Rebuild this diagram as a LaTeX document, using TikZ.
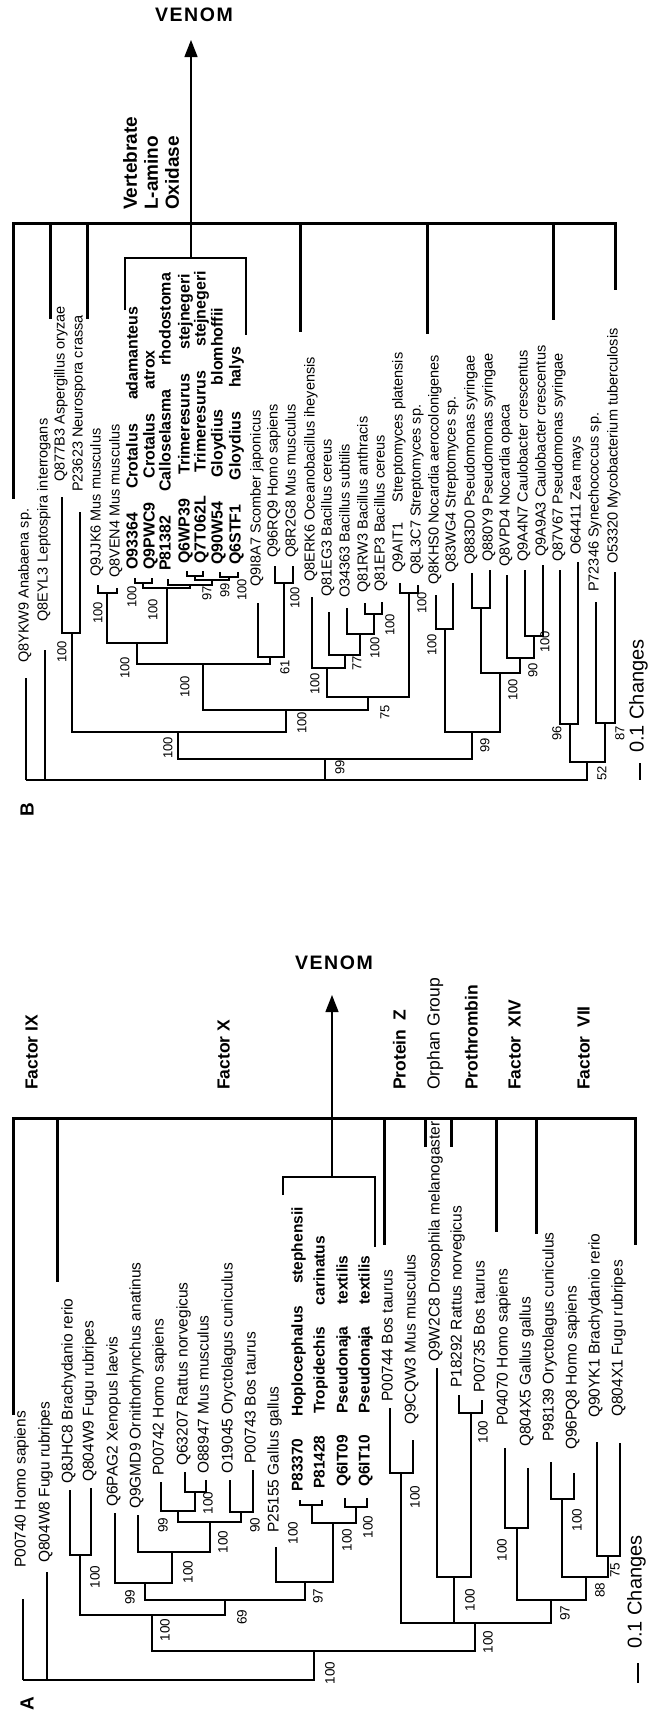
\documentclass[tikz,border=0pt]{standalone}
\usepackage{fontspec}
\setmainfont{Liberation Sans}
\usetikzlibrary{arrows.meta}
\newcommand\wgapA{\hspace{1.4em}}
\newcommand\wgapB{\hspace{1.5em}}

\begin{document}
\begin{tikzpicture}[
  x=1pt,y=-1pt,
  branch/.style={line width=1.4pt},
  cladebar/.style={line width=3pt,line cap=rect},
  venombar/.style={line width=1.4pt},
  venomarrow/.style={line width=1.4pt,-{Triangle[length=17pt,width=13pt]}},
  leafA/.style={rotate=90,anchor=mid west,inner sep=0pt,font=\fontsize{15.5}{16}\selectfont},
  leafAb/.style={leafA,font=\fontsize{15.5}{16}\selectfont\bfseries},
  leafB/.style={rotate=90,anchor=mid west,inner sep=0pt,font=\fontsize{14.5}{15}\selectfont},
  leafBb/.style={leafB,font=\fontsize{16}{16}\selectfont\bfseries},
  boot/.style={rotate=90,inner sep=0pt,font=\fontsize{13.5}{14}\selectfont},
  clade/.style={rotate=90,anchor=mid west,inner sep=0pt,font=\fontsize{17.5}{18}\selectfont\bfseries},
  venom/.style={inner sep=0pt,font=\fontsize{19.5}{20}\selectfont\bfseries\addfontfeature{LetterSpace=8}},
  panel/.style={rotate=90,inner sep=0pt,font=\fontsize{19}{20}\selectfont\bfseries},
  scaletext/.style={rotate=90,anchor=mid west,inner sep=0pt,font=\fontsize{20}{20}\selectfont},
]
\fill[white] (0,0) rectangle (652,1713);

% ===================== Panel B =====================
\node[panel] (labB) at (27,810) {B};

% leaves
\foreach \n/\x/\t/\l/\s in {
  b1/26/678/663/{Q8YKW9 Anabaena sp.},
  b2/45/650/622/{Q8EYL3 Leptospira interrogans},
  b3/62/497/482/{Q877B3 Aspergillus oryzae},
  b4/80/512/492/{P23623 Neurospora crassa},
  b5/98/585/577/{Q9JJK6 Mus musculus},
  b6/117/588/578/{Q8VEN4 Mus musculus},
  b14/258/603/587/{Q9I8A7 Scomber japonicus},
  b15/275/566/558/{Q96RQ9 Homo sapiens},
  b16/293/566/558/{Q8R2G8 Mus musculus},
  b17/312/597/582/{Q8ERK6 Oceanobacillus iheyensis},
  b18/329/612/597/{Q81EG3 Bacillus cereus},
  b19/347/608/598/{O34363 Bacillus subtilis},
  b20/365/603/593/{Q81RW3 Bacillus anthracis},
  b21/382/602/592/{Q81EP3 Bacillus cereus},
  b22/400/583/573/{Q9AIT1\wgapA Streptomyces platensis},
  b23/418/585/575/{Q8L3C7 Streptomyces sp.},
  b24/436/595/585/{Q8KHS0 Nocardia aerocolonigenes},
  b25/453/583/573/{Q83WG4 Streptomyces sp.},
  b26/472/573/565/{Q883D0 Pseudomonas syringae},
  b27/490/570/562/{Q880Y9 Pseudomonas syringae},
  b28/507/575/567/{Q8VPD4 Nocardia opaca},
  b29/525/570/562/{Q9A4N7 Caulobacter crescentus},
  b30/543/565/557/{Q9A9A3 Caulobacter crescentus},
  b31/560/570/562/{Q87V67 Pseudomonas syringae},
  b32/578/562/555/{O64411 Zea mays},
  b33/596/602/592/{P72346 Synechococcus sp.},
  b34/615/572/564/{O53320 Mycobacterium tuberculosis}}{
  \coordinate (\n) at (\x,\t);
  \node[leafB] (\n-t) at (\x,\l) {\s};
}
\foreach \n/\x/\t/\l/\s in {
  b7/135/578/570/{O93364\wgapB Crotalus\wgapB adamanteus},
  b8/152/578/570/{Q9PWC9\wgapB Crotalus\wgapB atrox},
  b9/168/579/571/{P81382\wgapB Calloselasma\wgapB rhodostoma},
  b10/187/571/564/{Q6WP39\wgapB Trimeresurus\wgapB stejnegeri},
  b11/203/571/564/{Q7T062L\wgapB Trimeresurus\wgapB stejnegeri},
  b12/220/572/565/{Q90W54\wgapB Gloydius\wgapB blomhoffii},
  b13/238/572/565/{Q6STF1\wgapB Gloydius\wgapB halys}}{
  \coordinate (\n) at (\x,\t);
  \node[leafBb] (\n-t) at (\x,\l) {\s};
}

% inner nodes
\coordinate (rB) at (26,780);
\coordinate (m1) at (325,759);  \coordinate (m2) at (178,732);
\coordinate (m3) at (72,633);   \coordinate (m4) at (286,710);
\coordinate (m5) at (203,664);  \coordinate (m6) at (137,643);
\coordinate (m7) at (107,593);  \coordinate (mv) at (167,588);
\coordinate (ma) at (143,583);  \coordinate (me) at (190,585);
\coordinate (md) at (212,580);  \coordinate (mb) at (195,576);
\coordinate (mc) at (229,577);  \coordinate (m8) at (270,657);
\coordinate (m9) at (284,583);  \coordinate (m10) at (368,697);
\coordinate (m11) at (327,668); \coordinate (m12) at (345,655);
\coordinate (m13) at (360,634); \coordinate (m14) at (374,614);
\coordinate (m15) at (409,593); \coordinate (m20) at (472,732);
\coordinate (m21) at (445,629); \coordinate (m22) at (500,673);
\coordinate (m23) at (481,608); \coordinate (m24) at (520,658);
\coordinate (m25) at (534,636); \coordinate (m30) at (587,762);
\coordinate (m31) at (570,724); \coordinate (m32) at (605,723);

\foreach \p/\c in {rB/b1,rB/b2,rB/m1,rB/m30,m1/m2,m1/m20,m2/m3,m2/m4,m3/b3,m3/b4,
  m4/m5,m4/m10,m5/m6,m5/m8,m6/m7,m6/mv,m7/b5,m7/b6,mv/ma,mv/me,ma/b7,ma/b8,
  me/b9,me/md,md/mb,md/mc,mb/b10,mb/b11,mc/b12,mc/b13,m8/b14,m8/m9,m9/b15,m9/b16,
  m10/m11,m10/m15,m11/b17,m11/m12,m12/b18,m12/m13,m13/b19,m13/m14,m14/b20,m14/b21,
  m15/b22,m15/b23,m20/m21,m20/m22,m21/b24,m21/b25,m22/m23,m22/m24,m23/b26,m23/b27,
  m24/b28,m24/m25,m25/b29,m25/b30,m30/m31,m30/m32,m31/b31,m31/b32,m32/b33,m32/b34}
  \draw[branch] (\p) -| (\c);

% bootstrap values
\foreach \x/\y/\v [count=\i] in {62/652/100,98/613/100,132/597/100,153/610/100,
  125/668/100,207/593/97,225/590/99,242/590/100,295/598/100,185/687/100,285/667/61,
  315/684/100,302/723/100,168/748/100,357/663/77,375/648/100,390/625/100,
  422/603/100,385/712/75,340/767/99,485/745/99,432/645/100,513/690/100,533/670/90,
  545/642/100,557/733/96,620/733/87,602/773/52}
  \node[boot,font=\fontsize{13}{13}\selectfont] (bsB\i) at (\x,\y) {\v};

% clade bar and venom group
\coordinate (brB-l) at (13,223); \coordinate (brB-r) at (615,223);
\draw[cladebar] (brB-l) -- (brB-r);
\foreach \x/\e in {13/497,50/317,87/317,300/330,427/332,553/318,615/288}
  \draw[cladebar] (\x,223) -- (\x,\e);
\coordinate (vB) at (191,258); \coordinate (vB-l) at (125,310);
\coordinate (vB-r) at (246,335); \coordinate (vB-tip) at (191,40);
\draw[venombar] (vB-l) |- (vB) -| (vB-r);
\draw[venomarrow] (vB) -- (vB-tip);
\node[venom] (venB) at (194,15) {VENOM};
\node[rotate=90,anchor=west,inner sep=0pt,align=left,
  font=\fontsize{19}{21}\selectfont\bfseries] (laao) at (151,210)
  {Vertebrate\\L-amino\\Oxidase};

% scale bar
\coordinate (scB1) at (640,763); \coordinate (scB2) at (640,780);
\draw[branch] (scB1) -- (scB2);
\node[scaletext] (scBt) at (641,753) {0.1 Changes};

% ===================== Panel A =====================
\node[panel] (labA) at (27,1704) {A};

% leaves
\foreach \n/\x/\t/\l/\s in {
  a1/23/1599/1568/{P00740 Homo sapiens},
  a2/47/1572/1563/{Q804W8 Fugu rubripes},
  a3/70/1490/1484/{Q8JHC8 Brachydanio rerio},
  a4/91/1488/1482/{Q804W9 Fugu rubripes},
  a5/115/1513/1507/{Q6PAG2 Xenopus laevis},
  a6/138/1515/1509/{Q9GMD9 Ornithorhynchus anatinus},
  a7/161/1482/1476/{P00742 Homo sapiens},
  a8/185/1472/1466/{Q63207 Rattus norvegicus},
  a9/206/1480/1474/{O88947 Mus musculus},
  a10/230/1480/1474/{O19045 Oryctolagus cuniculus},
  a11/253/1470/1464/{P00743 Bos taurus},
  a12/276/1547/1533/{P25155 Gallus gallus},
  a17/390/1408/1402/{P00744 Bos taurus},
  a18/413/1440/1425/{Q9CQW3 Mus musculus},
  a19/437/1368/1362/{Q9W2C8 Drosophila melanogaster},
  a20/459/1395/1388/{P18292 Rattus norvegicus},
  a21/482/1400/1393/{P00735 Bos taurus},
  a22/505/1448/1426/{P04070 Homo sapiens},
  a23/528/1468/1447/{Q804X5 Gallus gallus},
  a24/551/1462/1442/{P98139 Oryctolagus cuniculus},
  a25/574/1473/1450/{Q96PQ8 Homo sapiens},
  a26/597/1442/1418/{Q90YK1 Brachydanio rerio},
  a27/620/1443/1417/{Q804X1 Fugu rubripes}}{
  \coordinate (\n) at (\x,\t);
  \node[leafA] (\n-t) at (\x,\l) {\s};
}
\foreach \n/\x/\t/\l/\s in {
  a13/300/1500/1492/{P83370\wgapA Hoplocephalus\wgapA stephensii},
  a14/322/1500/1489/{P81428\wgapA Tropidechis\wgapA carinatus},
  a15/345/1498/1487/{Q6IT09\wgapA Pseudonaja\wgapA textilis},
  a16/367/1498/1487/{Q6IT10\wgapA Pseudonaja\wgapA textilis}}{
  \coordinate (\n) at (\x,\t);
  \node[leafAb] (\n-t) at (\x,\l) {\s};
}

% inner nodes
\coordinate (rA) at (23,1680);
\coordinate (n1) at (314,1651);  \coordinate (n2) at (152,1615);
\coordinate (n3) at (80,1555);   \coordinate (n4) at (225,1600);
\coordinate (n5) at (145,1583);  \coordinate (n6) at (172,1552);
\coordinate (n7) at (210,1522);  \coordinate (n8) at (178,1511);
\coordinate (n8b) at (195,1492); \coordinate (n9) at (241,1512);
\coordinate (n10) at (305,1582); \coordinate (n11) at (333,1523);
\coordinate (n12) at (312,1505); \coordinate (n13) at (356,1507);
\coordinate (n20) at (475,1623); \coordinate (n21) at (401,1473);
\coordinate (n22) at (454,1577); \coordinate (n23) at (471,1413);
\coordinate (n24) at (551,1600); \coordinate (n25) at (517,1528);
\coordinate (n26) at (586,1577); \coordinate (n27) at (562,1499);
\coordinate (n28) at (608,1556);

\foreach \p/\c in {rA/a1,rA/a2,rA/n1,n1/n2,n1/n20,n2/n3,n2/n4,n3/a3,n3/a4,
  n4/n5,n4/n10,n5/a5,n5/n6,n6/a6,n6/n7,n7/n8,n7/n9,n8/a7,n8/n8b,n8b/a8,n8b/a9,
  n9/a10,n9/a11,n10/a12,n10/n11,n11/n12,n11/n13,n12/a13,n12/a14,n13/a15,n13/a16,
  n20/n21,n20/n22,n20/n24,n21/a17,n21/a18,n22/a19,n22/n23,n23/a20,n23/a21,
  n24/n25,n24/n26,n25/a22,n25/a23,n26/n27,n26/n28,n27/a24,n27/a25,n28/a26,n28/a27}
  \draw[branch] (\p) -| (\c);

% bootstrap values
\foreach \x/\y/\v [count=\i] in {330/1673/100,165/1630/100,95/1577/100,242/1617/69,
  130/1597/99,188/1572/100,223/1542/100,163/1525/99,208/1503/100,255/1525/90,
  318/1596/97,347/1540/100,293/1533/100,368/1527/100,488/1642/100,415/1497/100,
  470/1600/100,483/1432/100,565/1613/97,502/1550/100,600/1590/88,577/1520/100,
  615/1570/75}
  \node[boot] (bsA\i) at (\x,\y) {\v};

% clade bar and labels
\coordinate (brA-l) at (13,1118); \coordinate (brA-r) at (635,1118);
\draw[cladebar] (brA-l) -- (brA-r);
\foreach \x/\e in {13/1413,57/1280,384/1243,425/1145,451/1145,496/1230,536/1232,635/1243}
  \draw[cladebar] (\x,1118) -- (\x,\e);
\foreach \x/\s [count=\i] in {35/{Factor IX},227/{Factor X},403/{Protein\enspace Z},
  475/Prothrombin,518/{Factor\enspace XIV},587/{Factor\enspace VII}}
  \node[clade] (clA\i) at (\x,1090) {\s};
\node[clade,font=\fontsize{17.5}{18}\selectfont] (clAorph) at (437,1090) {Orphan Group};

% venom group
\coordinate (vA) at (332,1177); \coordinate (vA-l) at (283,1195);
\coordinate (vA-r) at (375,1247); \coordinate (vA-tip) at (332,995);
\draw[venombar] (vA-l) |- (vA) -| (vA-r);
\draw[venomarrow] (vA) -- (vA-tip);
\node[venom] (venA) at (334,963) {VENOM};

% scale bar
\coordinate (scA1) at (638,1663); \coordinate (scA2) at (638,1683);
\draw[branch] (scA1) -- (scA2);
\node[scaletext] (scAt) at (639,1649) {0.1 Changes};

\end{tikzpicture}
\end{document}
